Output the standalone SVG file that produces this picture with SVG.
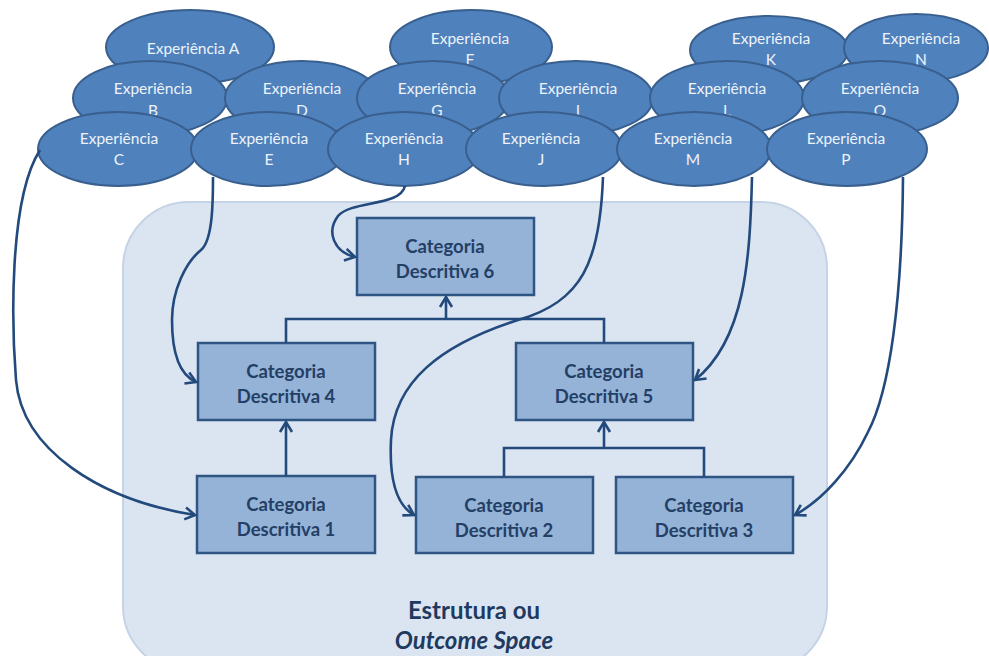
<svg xmlns="http://www.w3.org/2000/svg" width="989" height="656" viewBox="0 0 989 656">
<defs>
<marker id="arr" markerUnits="userSpaceOnUse" markerWidth="16" markerHeight="16" refX="11" refY="7" orient="auto" viewBox="0 0 16 14">
<path d="M1,1 L11,7 L1,13" fill="none" stroke="#224a7c" stroke-width="2.6" stroke-linejoin="miter"/>
</marker>
<style>
.exp ellipse{fill:#4f81bd;stroke:#395f8e;stroke-width:2}
.exp text{font-family:Lato,"Open Sans","Liberation Sans",sans-serif;font-size:15.5px;fill:#eef3fa;text-anchor:middle}
.box rect{fill:#95b3d7;stroke:#2f5584;stroke-width:2.5}
.box text{font-family:Lato,"Open Sans","Liberation Sans",sans-serif;font-size:18.5px;font-weight:bold;fill:#243f66;text-anchor:middle}
.conn path{fill:none;stroke:#224a7c;stroke-width:2.6}
.lbl{font-family:Lato,"Open Sans","Liberation Sans",sans-serif;font-size:24px;font-weight:bold;fill:#1f3a60;text-anchor:middle}
</style>
</defs>
<rect width="989" height="656" fill="#ffffff"/>
<g id="outcome-space">
<rect x="123" y="202" width="704" height="470" rx="66" ry="66" fill="#dbe5f1" stroke="#c5d3e6" stroke-width="2"/>
<text class="lbl" x="474" y="619">Estrutura ou</text>
<text class="lbl" x="474" y="649" font-style="italic">Outcome Space</text>
</g>
<g id="exp-A" class="exp"><ellipse cx="190" cy="47" rx="84" ry="37"/><text x="193" y="54">Experiência A</text></g>
<g id="exp-F" class="exp"><ellipse cx="471" cy="47" rx="81" ry="37"/><text x="470" y="44">Experiência</text><text x="470" y="65">F</text></g>
<g id="exp-K" class="exp"><ellipse cx="769" cy="50" rx="79" ry="34"/><text x="771" y="44">Experiência</text><text x="771" y="65">K</text></g>
<g id="exp-N" class="exp"><ellipse cx="916" cy="48" rx="72" ry="34"/><text x="921" y="44">Experiência</text><text x="921" y="65">N</text></g>
<g id="exp-B" class="exp"><ellipse cx="150" cy="98" rx="77" ry="37"/><text x="153" y="94">Experiência</text><text x="153" y="116">B</text></g>
<g id="exp-D" class="exp"><ellipse cx="302" cy="98" rx="77" ry="37"/><text x="302" y="94">Experiência</text><text x="302" y="116">D</text></g>
<g id="exp-G" class="exp"><ellipse cx="433" cy="98" rx="76" ry="37"/><text x="437" y="94">Experiência</text><text x="437" y="116">G</text></g>
<g id="exp-I" class="exp"><ellipse cx="576" cy="98" rx="77" ry="37"/><text x="578" y="94">Experiência</text><text x="578" y="116">I</text></g>
<g id="exp-L" class="exp"><ellipse cx="727" cy="98" rx="77" ry="37"/><text x="727" y="94">Experiência</text><text x="727" y="116">L</text></g>
<g id="exp-O" class="exp"><ellipse cx="880" cy="98" rx="78" ry="37"/><text x="880" y="94">Experiência</text><text x="880" y="116">O</text></g>
<g id="exp-C" class="exp"><ellipse cx="118" cy="149" rx="80" ry="37"/><text x="119" y="144">Experiência</text><text x="119" y="165">C</text></g>
<g id="exp-E" class="exp"><ellipse cx="268" cy="149" rx="77" ry="37"/><text x="269" y="144">Experiência</text><text x="269" y="165">E</text></g>
<g id="exp-H" class="exp"><ellipse cx="404" cy="149" rx="76" ry="37"/><text x="404" y="144">Experiência</text><text x="404" y="165">H</text></g>
<g id="exp-J" class="exp"><ellipse cx="544" cy="149" rx="78" ry="37"/><text x="541" y="144">Experiência</text><text x="541" y="165">J</text></g>
<g id="exp-M" class="exp"><ellipse cx="694" cy="149" rx="77" ry="37"/><text x="693" y="144">Experiência</text><text x="693" y="165">M</text></g>
<g id="exp-P" class="exp"><ellipse cx="847" cy="149" rx="80" ry="37"/><text x="846" y="144">Experiência</text><text x="846" y="165">P</text></g>
<g id="cat-6" class="box"><rect x="357" y="218" width="177" height="77"/><text x="445" y="253">Categoria</text><text x="445" y="278">Descritiva 6</text></g>
<g id="cat-4" class="box"><rect x="198" y="343" width="177" height="77"/><text x="286" y="378">Categoria</text><text x="286" y="403">Descritiva 4</text></g>
<g id="cat-5" class="box"><rect x="516" y="343" width="177" height="77"/><text x="604" y="378">Categoria</text><text x="604" y="403">Descritiva 5</text></g>
<g id="cat-1" class="box"><rect x="197" y="476" width="178" height="77"/><text x="286" y="511">Categoria</text><text x="286" y="536">Descritiva 1</text></g>
<g id="cat-2" class="box"><rect x="416" y="477" width="177" height="76"/><text x="504" y="512">Categoria</text><text x="504" y="537">Descritiva 2</text></g>
<g id="cat-3" class="box"><rect x="616" y="477" width="177" height="76"/><text x="704" y="512">Categoria</text><text x="704" y="537">Descritiva 3</text></g>
<g id="connectors" class="conn">
<path d="M286,343 V319 H604 V343"/>
<path d="M446,319 V297" marker-end="url(#arr)"/>
<path d="M286,476 V422" marker-end="url(#arr)"/>
<path d="M504,477 V448 H704 V477"/>
<path d="M604,448 V422" marker-end="url(#arr)"/>
<path d="M40,150 C8,200 12,330 16,380 C22,450 100,500 195,515" marker-end="url(#arr)"/>
<path d="M213,177 C213,200 213,240 201,250 C186,262 172,290 172,320 C172,355 180,375 196,382" marker-end="url(#arr)"/>
<path d="M405,186 C400,207 352,200 338,216 C326,232 334,252 355,257" marker-end="url(#arr)"/>
<path d="M603,177 C600,262 582,302 518,320 C440,345 394,382 391,440 C389,482 398,506 414,515" marker-end="url(#arr)"/>
<path d="M752,177 C750,260 745,340 695,380" marker-end="url(#arr)"/>
<path d="M903,177 C902,300 890,390 868,432 C850,470 822,500 795,515" marker-end="url(#arr)"/>
</g>
</svg>
